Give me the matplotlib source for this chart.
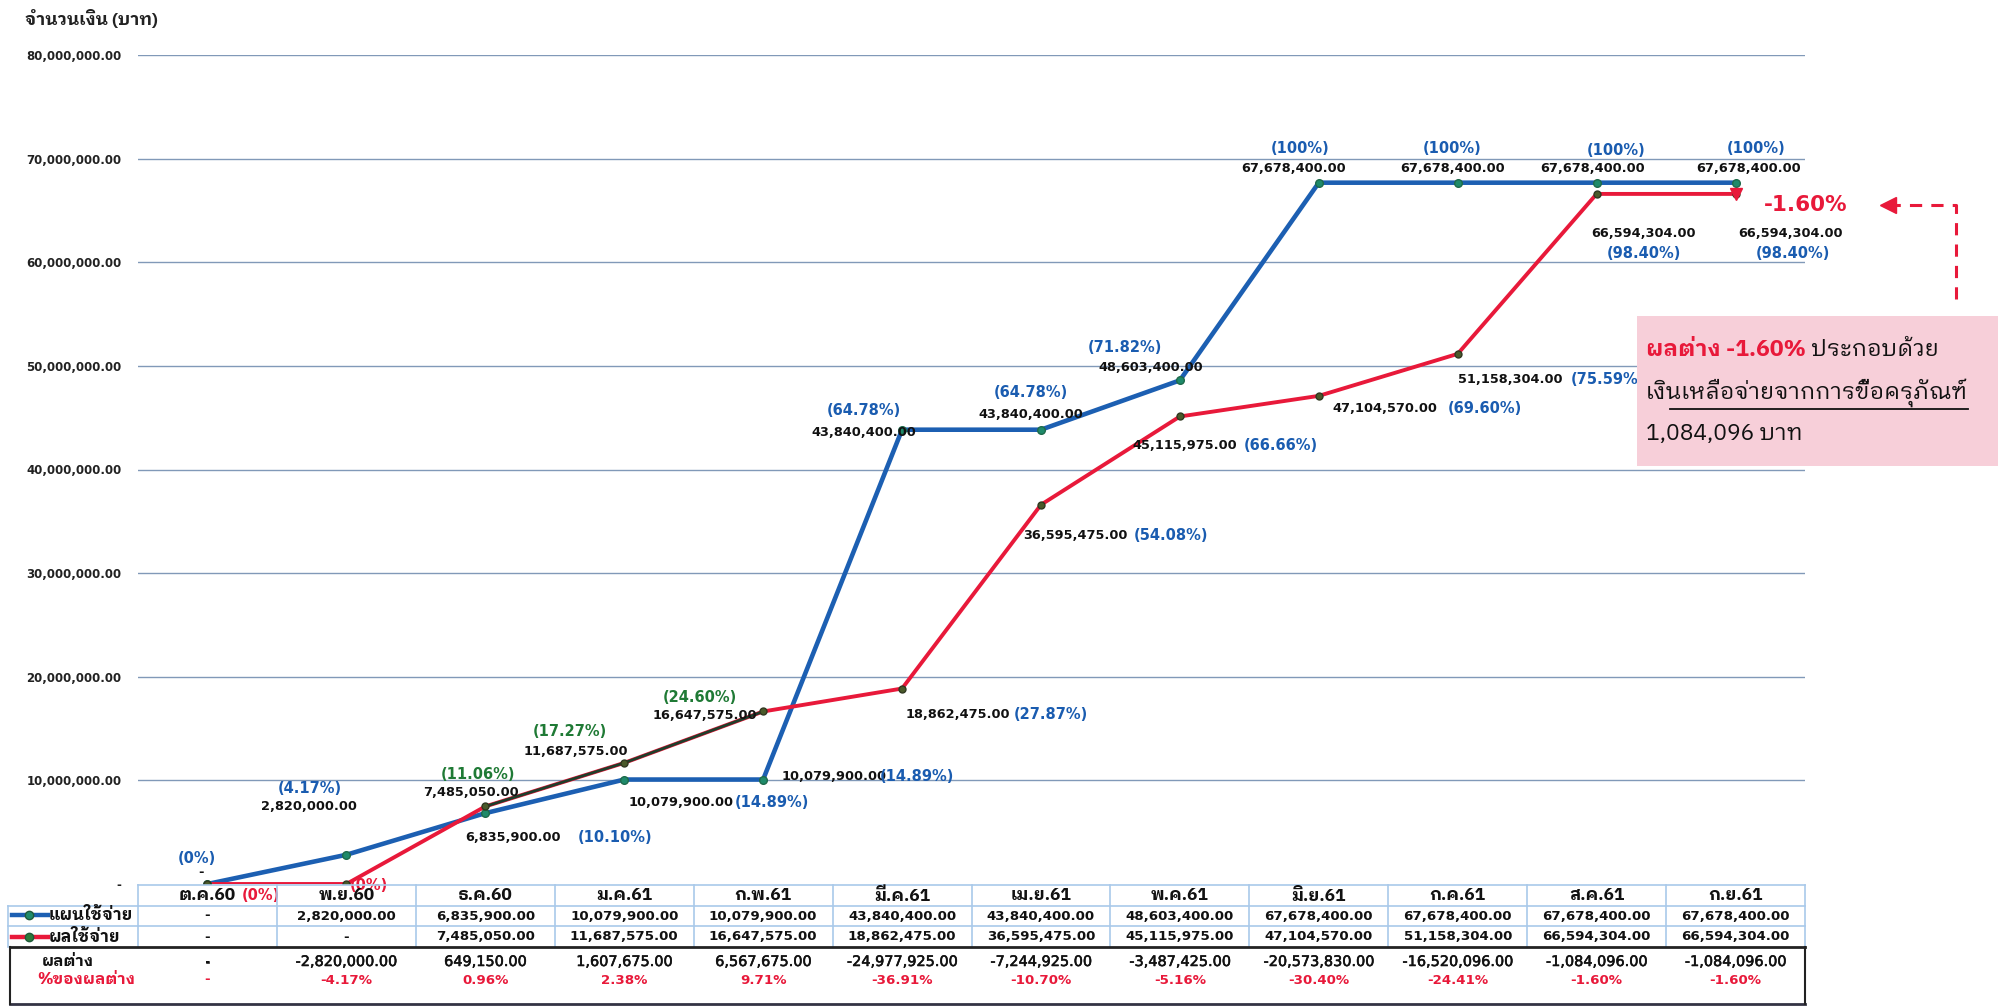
import matplotlib
matplotlib.use('Agg')
import matplotlib.pyplot as plt
from matplotlib import font_manager as fm
from matplotlib import patheffects as pe
from matplotlib.transforms import blended_transform_factory
from matplotlib.lines import Line2D
from matplotlib.patches import Rectangle

# ---------------- data ----------------
months = ['ต.ค.60', 'พ.ย.60', 'ธ.ค.60', 'ม.ค.61', 'ก.พ.61', 'มี.ค.61',
          'เม.ย.61', 'พ.ค.61', 'มิ.ย.61', 'ก.ค.61', 'ส.ค.61', 'ก.ย.61']
plan = [0, 2820000, 6835900, 10079900, 10079900, 43840400, 43840400,
        48603400, 67678400, 67678400, 67678400, 67678400]
actual = [0, 0, 7485050, 11687575, 16647575, 18862475, 36595475,
          45115975, 47104570, 51158304, 66594304, 66594304]
plan_txt = ['-', '2,820,000.00', '6,835,900.00', '10,079,900.00', '10,079,900.00',
            '43,840,400.00', '43,840,400.00', '48,603,400.00', '67,678,400.00',
            '67,678,400.00', '67,678,400.00', '67,678,400.00']
actual_txt = ['-', '-', '7,485,050.00', '11,687,575.00', '16,647,575.00',
              '18,862,475.00', '36,595,475.00', '45,115,975.00', '47,104,570.00',
              '51,158,304.00', '66,594,304.00', '66,594,304.00']
plan_pct = ['(0%)', '(4.17%)', '(10.10%)', '(14.89%)', '(14.89%)', '(64.78%)',
            '(64.78%)', '(71.82%)', '(100%)', '(100%)', '(100%)', '(100%)']
actual_pct = ['(0%)', '(0%)', '(11.06%)', '(17.27%)', '(24.60%)', '(27.87%)',
              '(54.08%)', '(66.66%)', '(69.60%)', '(75.59%)', '(98.40%)', '(98.40%)']
diff_txt = ['-', '-2,820,000.00', '649,150.00', '1,607,675.00', '6,567,675.00',
            '-24,977,925.00', '-7,244,925.00', '-3,487,425.00', '-20,573,830.00',
            '-16,520,096.00', '-1,084,096.00', '-1,084,096.00']
diff_pct = ['-', '-4.17%', '0.96%', '2.38%', '9.71%', '-36.91%', '-10.70%',
            '-5.16%', '-30.40%', '-24.41%', '-1.60%', '-1.60%']
yticks = [0, 10e6, 20e6, 30e6, 40e6, 50e6, 60e6, 70e6, 80e6]
ytick_labels = ['-', '10,000,000.00', '20,000,000.00', '30,000,000.00', '40,000,000.00',
                '50,000,000.00', '60,000,000.00', '70,000,000.00', '80,000,000.00']
series_names = ['แผนใช้จ่าย', 'ผลใช้จ่าย']
diff_labels = ['ผลต่าง', '%ของผลต่าง']
title = 'จำนวนเงิน (บาท)'
note_red = 'ผลต่าง -1.60%'
note_rest = ' ประกอบด้วย'
note_line2 = 'เงินเหลือจ่ายจากการขื้อครุภัณฑ์'
note_line3 = '1,084,096 บาท'
callout = '-1.60%'

# ---------------- fonts ----------------
_names = {f.name for f in fm.fontManager.ttflist}
def pick(cands, default='DejaVu Sans'):
    for c in cands:
        if c in _names:
            return c
    return default
THAI = pick(['IBM Plex Sans Thai Looped', 'Noto Sans Thai Looped', 'Noto Sans Thai',
             'Sarabun', 'IBM Plex Sans Thai', 'Bai Jamjuree', 'Chakra Petch'])
TH = [THAI, 'DejaVu Sans']
NUM = ['DejaVu Sans']
LAB = ['DejaVu Sans']

BLUE = '#1c5fb2'
RED = '#e8193a'
TXTBLUE = '#1a5cb0'
GREEN = '#1f7a35'
GRID = '#8199b8'
CELL = '#a9c9ea'
THICK = [pe.withStroke(linewidth=0.4, foreground='#111111')]

W, H = 1998, 1008
S = W / 1568.0  # reference display -> pixel

fig = plt.figure(figsize=(W / 100, H / 100), dpi=100)
ax = fig.add_axes([138 / W, 1 - 884 / H, (1805 - 138) / W, (884 - 55) / H])
ax.set_xlim(-0.5, 11.5)
ax.set_ylim(0, 80e6)
for sp in ax.spines.values():
    sp.set_visible(False)
ax.set_xticks([])
ax.set_yticks(yticks)
ax.set_yticklabels(ytick_labels, fontsize=8.5, fontweight='bold', color='#222222')
ax.tick_params(axis='y', length=0, pad=12)
for v in yticks[1:]:
    ax.axhline(v, color=GRID, lw=1.0, zorder=1)

x = list(range(len(months)))
ax.plot(x, plan, color=BLUE, lw=3.3, zorder=3, solid_capstyle='round')
ax.plot(x, actual, color=RED, lw=2.8, zorder=4, solid_capstyle='round')
ax.plot(x[2:5], actual[2:5], color='#1f3d2a', lw=2.0, zorder=5)
ax.plot(x, plan, ls='none', marker='o', ms=5.5, mfc='#1e8a6a', mec='#1e6a4a', zorder=6)
ax.plot(x, actual, ls='none', marker='o', ms=5, mfc='#4a5a2a', mec='#303820', zorder=6)
ax.plot(x[-1:], actual[-1:], ls='none', marker='v', ms=8, color=RED, zorder=7)

# ---------------- point labels (offsets in reference display px) ----------------
plan_val_off = [(-5, -9), (-29, -38), (22, 19), (45, 18), (56, -2), (-30, 2), (-8, -12),
                (-23, -10), (-20, -11), (-4, -11), (-3, -11), (10, -11)]
plan_pct_off = [(-8, -20), (-29, -52), (102, 19), (116, 18), (121, -2), (-30, -15),
                (-8, -29), (-43, -26), (-15, -27), (-4, -27), (15, -25), (16, -27)]
act_val_off = [None, None, (-11, -11), (-38, -9), (-46, 3), (44, 20), (27, 24), (4, 23),
               (52, 10), (41, 20), (37, 31), (43, 31)]
act_pct_off = [(42, 9), (18, 1), (-6, -25), (-43, -25), (-50, -11), (117, 20), (102, 24),
               (79, 23), (130, 10), (118, 20), (37, 47), (45, 47)]
act_pct_col = [RED, RED, GREEN, GREEN, GREEN] + [TXTBLUE] * 7

def lab(xi, yi, s, off, color, size=9.3, weight='bold'):
    ax.annotate(s, (xi, yi), xytext=(off[0] * S, -off[1] * S), textcoords='offset pixels',
                ha='center', va='center', fontsize=size, fontweight=weight, color=color,
                family=LAB, zorder=8, annotation_clip=False)

for i in x:
    lab(i, plan[i], plan_txt[i], plan_val_off[i], '#111111')
    lab(i, plan[i], plan_pct[i], plan_pct_off[i], TXTBLUE, size=10.5)
    if act_val_off[i] is not None:
        lab(i, actual[i], actual_txt[i], act_val_off[i], '#111111')
    lab(i, actual[i], actual_pct[i], act_pct_off[i], act_pct_col[i], size=10.5)

# title
fig.text(25 / W, 1 - 19 / H, title, fontsize=12.5, fontweight='bold', family=TH,
         ha='left', va='center', color='#222222')

# ---------------- table ----------------
T = blended_transform_factory(ax.transData, fig.transFigure)
def fy(p):
    return 1 - p / H
def fx(p):
    return p / W

y_top, y_h, y_r1, y_r2, y_bot = 885, 906, 926, 947, 1004
xl = 8
fig.add_artist(Line2D([-0.5, 11.5], [fy(y_top)] * 2, transform=T, color=CELL, lw=1.2))
for yy in (y_h, y_r1):
    fig.add_artist(Line2D([fx(xl), fx(138)], [fy(yy)] * 2, transform=fig.transFigure,
                          color=CELL, lw=1.2))
    fig.add_artist(Line2D([-0.5, 11.5], [fy(yy)] * 2, transform=T, color=CELL, lw=1.2))
for c in range(13):
    fig.add_artist(Line2D([c - 0.5] * 2, [fy(y_top), fy(y_r2)], transform=T, color=CELL, lw=1.2))
fig.add_artist(Line2D([fx(xl)] * 2, [fy(y_h), fy(y_r2)], transform=fig.transFigure,
                      color=CELL, lw=1.2))
# diff box (black)
xb = 10
fig.add_artist(Line2D([fx(xb), fx(1805)], [fy(y_r2)] * 2, transform=fig.transFigure,
                      color='#222222', lw=2.0))
fig.add_artist(Line2D([fx(xb), fx(1805)], [fy(y_bot)] * 2, transform=fig.transFigure,
                      color='#333344', lw=2.0))
fig.add_artist(Line2D([fx(xb)] * 2, [fy(y_r2), fy(y_bot)], transform=fig.transFigure,
                      color='#222222', lw=1.5))
fig.add_artist(Line2D([fx(1805)] * 2, [fy(y_r2), fy(y_bot)], transform=fig.transFigure,
                      color='#222222', lw=1.5))

for i in x:
    fig.text(i, fy(896), months[i], transform=T, ha='center', va='center', fontsize=12.5,
             fontweight='bold', family=TH, color='#111111')
    fig.text(i, fy(916), plan_txt[i], transform=T, ha='center', va='center', fontsize=9.6,
             fontweight='bold', family=NUM, color='#111111')
    fig.text(i, fy(937), actual_txt[i], transform=T, ha='center', va='center', fontsize=9.6,
             fontweight='bold', family=NUM, color='#111111')
    fig.text(i, fy(962), diff_txt[i], transform=T, ha='center', va='center', fontsize=10.4,
             family=NUM, color='#111111', path_effects=THICK)
    fig.text(i, fy(980), diff_pct[i], transform=T, ha='center', va='center', fontsize=9.6,
             fontweight='bold', family=NUM, color=RED)

# legend samples
for yy, col, mfc, name in ((915, BLUE, '#1e8a6a', series_names[0]),
                            (937, RED, '#2e7a3a', series_names[1])):
    fig.add_artist(Line2D([fx(12), fx(48)], [fy(yy)] * 2, transform=fig.transFigure,
                          color=col, lw=3.2))
    fig.add_artist(Line2D([fx(29)], [fy(yy)], transform=fig.transFigure, ls='none',
                          marker='o', ms=6, mfc=mfc, mec='#1e5a3a'))
    fig.text(fx(49), fy(yy), name, ha='left', va='center', fontsize=12, fontweight='bold',
             family=TH, color='#111111')
fig.text(fx(68), fy(961), diff_labels[0], ha='center', va='center', fontsize=11.5,
         fontweight='bold', family=TH, color='#111111')
fig.text(fx(86), fy(979), diff_labels[1], ha='center', va='center', fontsize=11.5,
         fontweight='bold', family=TH, color=RED)

# ---------------- callout ----------------
fig.text(fx(1764), fy(205), callout, ha='left', va='center', fontsize=15.5,
         fontweight='bold', family=LAB, color=RED)
fig.add_artist(Line2D([fx(1956), fx(1956), fx(1893)], [fy(299), fy(205), fy(205)],
                      transform=fig.transFigure, color=RED, lw=2.2, ls=(0, (4, 3))))
fig.add_artist(Line2D([fx(1888)], [fy(205)], transform=fig.transFigure, ls='none',
                      marker='<', ms=11, color=RED))

# pink note box
fig.add_artist(Rectangle((fx(1637), fy(466)), fx(W - 1637), (466 - 316) / H,
                         transform=fig.transFigure, facecolor='#f7cfd9', edgecolor='none'))
fig.canvas.draw()
r = fig.canvas.get_renderer()
t1 = fig.text(fx(1646), fy(350), note_red, ha='left', va='center', fontsize=16.5,
              fontweight='bold', family=TH, color=RED)
bb = t1.get_window_extent(r)
fig.text(fx(bb.x1), fy(350), note_rest, ha='left', va='center', fontsize=16.5,
         family=TH, color='#111111')
t2 = fig.text(fx(1646), fy(393), note_line2, ha='left', va='center', fontsize=16.5,
              family=TH, color='#111111')
bb2 = t2.get_window_extent(r)
fig.add_artist(Line2D([fx(bb2.x0 + 24), fx(bb2.x1)], [fy(409)] * 2,
                      transform=fig.transFigure, color='#111111', lw=1.3))
fig.text(fx(1646), fy(434), note_line3, ha='left', va='center', fontsize=16.5,
         family=TH, color='#111111')

fig.savefig('out.png', dpi=100, facecolor='white')
